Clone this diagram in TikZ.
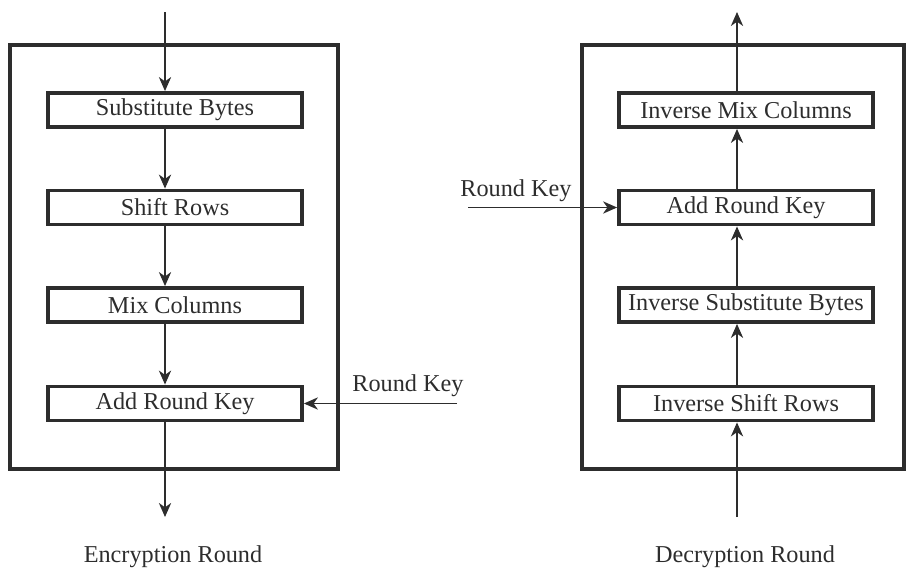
\documentclass[tikz,border=0pt]{standalone}
\usepackage{fontspec}
\setmainfont{Liberation Serif}
\usetikzlibrary{arrows.meta}
\definecolor{ink}{RGB}{45, 45, 45}
\tikzstyle{frame}=[draw=ink,line width=2.4pt,minimum width=6.56cm,minimum height=8.48cm,inner sep=0pt]
\tikzstyle{step box}=[draw=ink,line width=2.2pt,minimum width=5.08cm,minimum height=0.68cm,
  inner sep=0pt,text=ink,font=\fontsize{13.8}{16}\selectfont]
\tikzstyle{label}=[text=ink,font=\fontsize{13.8}{16}\selectfont]
\tikzstyle{flow}=[draw=ink,line width=0.75pt,-{Stealth[length=8pt,width=7pt,inset=2.5pt]}]

\begin{document}
\begin{tikzpicture}[x=0.02cm, y=-0.02cm]
            \useasboundingbox (0, 0) rectangle (910, 572);
            % encryption round
            \node [style=frame] (encframe) at (174, 257) {};
            \node [style=step box] (sb) at (175, 110) {Substitute Bytes};
            \node [style=step box] (sr) at (175, 207.5) {Shift Rows};
            \node [style=step box] (mc) at (175, 305) {Mix Columns};
            \node [style=step box] (ark) at (175, 403.5) {Add Round Key};
            \node [style=label] (enckey) at (408, 386) {Round Key};
            \node [style=label] (enclabel) at (173, 557) {Encryption Round};
            \coordinate (encin) at (165, 12);
            \coordinate (encout) at (165, 517);
            \coordinate (enckeyin) at (457, 403.5);
            \draw [style=flow] (encin) to (encin |- sb.north);
            \draw [style=flow] (encin |- sb.south) to (encin |- sr.north);
            \draw [style=flow] (encin |- sr.south) to (encin |- mc.north);
            \draw [style=flow] (encin |- mc.south) to (encin |- ark.north);
            \draw [style=flow] (encin |- ark.south) to (encout);
            \draw [style=flow] (enckeyin) to (ark.east);
            % decryption round
            \node [style=frame, minimum width=6.44cm] (decframe) at (743, 257) {};
            \node [style=step box] (imc) at (746, 110) {Inverse Mix Columns};
            \node [style=step box] (dark) at (746, 207.5) {Add Round Key};
            \node [style=step box] (isb) at (746, 305) {Inverse Substitute Bytes};
            \node [style=step box] (isr) at (746, 403.5) {Inverse Shift Rows};
            \node [style=label] (deckey) at (516, 191) {Round Key};
            \node [style=label] (declabel) at (745, 557) {Decryption Round};
            \coordinate (decin) at (737, 517);
            \coordinate (decout) at (737, 12);
            \coordinate (deckeyin) at (468, 207.5);
            \draw [style=flow] (decin) to (decin |- isr.south);
            \draw [style=flow] (decin |- isr.north) to (decin |- isb.south);
            \draw [style=flow] (decin |- isb.north) to (decin |- dark.south);
            \draw [style=flow] (decin |- dark.north) to (decin |- imc.south);
            \draw [style=flow] (decin |- imc.north) to (decout);
            \draw [style=flow] (deckeyin) to (dark.west);
    \end{tikzpicture}
\end{document}
